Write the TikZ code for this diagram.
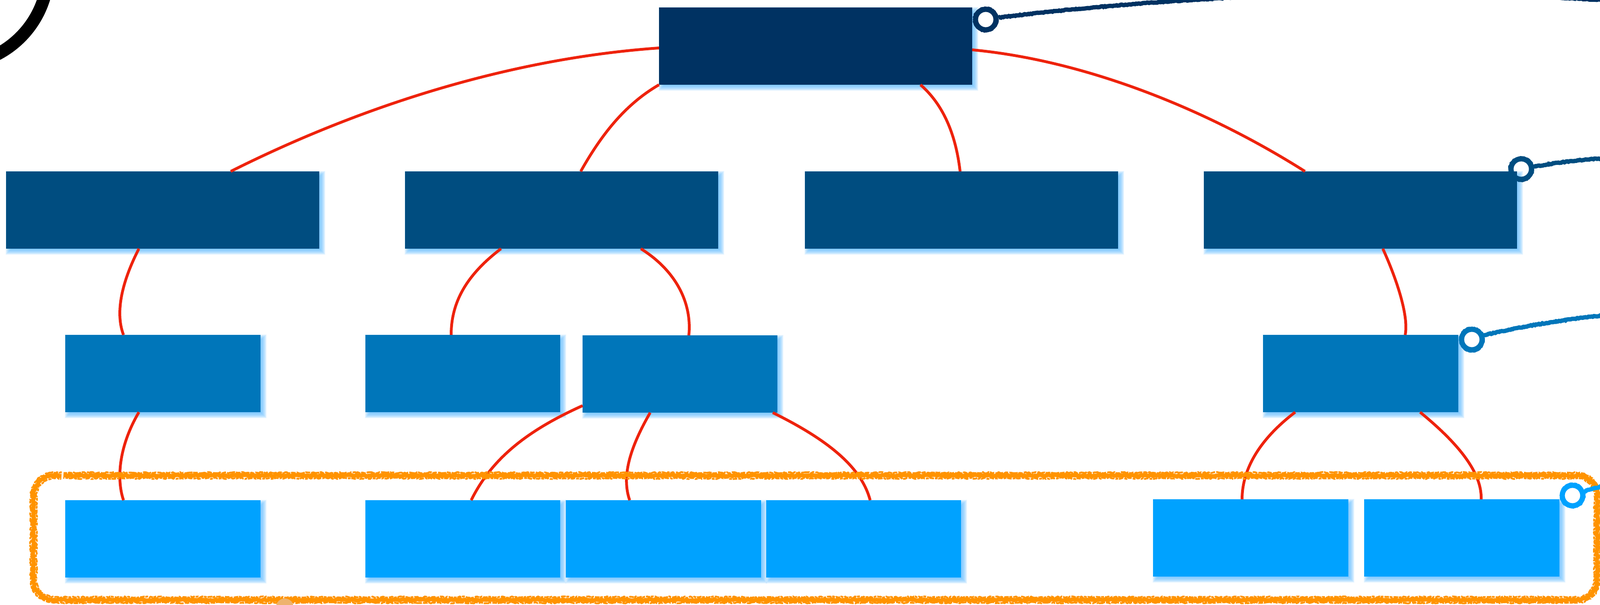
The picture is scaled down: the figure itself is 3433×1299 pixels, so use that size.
\documentclass[tikz,border=0pt]{standalone}
\usetikzlibrary{calc,decorations.pathmorphing}
\definecolor{rootblue}{HTML}{003262}
\definecolor{midblue}{HTML}{004D80}
\definecolor{secblue}{HTML}{0076BA}
\definecolor{leafblue}{HTML}{00A2FF}
\definecolor{shadowblue}{HTML}{66C0FF}
\definecolor{linkred}{HTML}{EE220C}
\definecolor{bandorange}{HTML}{FF9300}
\definecolor{blobtan}{HTML}{EEB36E}
\tikzset{
  x=0.5pt,y=-0.5pt,
  plate/.style={draw=none,inner sep=0pt,outer sep=0pt,rectangle},
  link/.style={draw=linkred,line width=3pt},
  rough/.style={decorate,decoration={random steps,segment length=1.8pt,amplitude=0.8pt}},
  roughfine/.style={decorate,decoration={random steps,segment length=1.4pt,amplitude=0.45pt}},
  pinring/.style={line width=5.5pt},
  pinline/.style={line width=4.6pt},
}
% \plate{name}{x0}{y0}{x1}{y1}{colour}
\newcommand{\plate}[6]{%
  \foreach \g in {7,6,5,4,3,2,1,0,-1,-2,-3,-4,-5}{%
    \fill[shadowblue,opacity=0.11]
      (#2+6-\g,#3+6-\g) rectangle (#4+6+\g,#5+6+\g);}
  \pgfmathsetmacro{\pw}{(#4-#2)*0.5}\pgfmathsetmacro{\ph}{(#5-#3)*0.5}
  \node[plate,fill=#6,minimum width=\pw pt,minimum height=\ph pt] (#1) at ({(#2+#4)/2},{(#3+#5)/2}) {};}
% \pin{name}{x}{y}{colour}
\newcommand{\pin}[4]{%
  \coordinate (#1) at (#2,#3);
  \draw[#4,pinring] (#1) circle (22);
  \draw[#4,line width=1.6pt,roughfine] ($(#1)+(19,0)$) arc (0:360:19);
  \draw[#4,line width=1.6pt,roughfine] ($(#1)+(26,0)$) arc (0:360:26);}
% \bandloop{left}{top}{right}{bottom}{radius}: rounded rectangle path
\newcommand{\bandloop}[5]{(#1,#2+#5) arc (180:270:#5) -- (#3-#5,#2) arc (270:360:#5) -- (#3,#4-#5) arc (0:90:#5) -- (#1+#5,#4) arc (90:180:#5) -- cycle}
\begin{document}
\begin{tikzpicture}
\useasboundingbox (0,0) rectangle (3433,1299);
\begin{scope}
\clip (0,0) rectangle (3433,1299);
\fill[white] (0,0) rectangle (3433,1299);
\draw[black,line width=13.5pt] (-100,-64) circle (203.5);

\plate{root}{1414}{16}{2086}{182}{rootblue}
\plate{aa}{13}{368}{685}{534}{midblue}
\plate{ab}{869}{368}{1541}{534}{midblue}
\plate{ac}{1727}{368}{2399}{534}{midblue}
\plate{ad}{2583}{368}{3255}{534}{midblue}
\plate{ba}{140}{719}{559}{885}{secblue}
\plate{bb}{784}{719}{1202}{885}{secblue}
\plate{bc}{1250}{720}{1668}{886}{secblue}
\plate{bd}{2710}{719}{3129}{885}{secblue}
\plate{ca}{140}{1074}{559}{1240}{leafblue}
\plate{cb}{784}{1074}{1202}{1240}{leafblue}
\plate{cc}{1214}{1074}{1633}{1240}{leafblue}
\plate{cd}{1644}{1074}{2062}{1240}{leafblue}
\plate{ce}{2474}{1072}{2893}{1238}{leafblue}
\plate{cf}{2927}{1072}{3346}{1238}{leafblue}

% connectors: offsets are in reference pixels from box corners
\draw[link] ($(root.north west)+(0,87)$) .. controls +(-314,22) and ($(aa.north west)+(767,-143)$) .. ($(aa.north west)+(482,0)$);
\draw[link] ($(root.south west)+(0,0)$) .. controls +(-74,43) and ($(ab.north west)+(421,-78)$) .. ($(ab.north west)+(377,0)$);
\draw[link] ($(root.south west)+(561,0)$) .. controls +(55,48) and ($(ac.north west)+(325,-68)$) .. ($(ac.north west)+(333,0)$);
\draw[link] ($(root.north east)+(0,91)$) .. controls +(244,23) and ($(ad.north west)+(7,-133)$) .. ($(ad.north west)+(217,0)$);
\draw[link] ($(aa.south west)+(285,0)$) .. controls +(-44,86) and ($(ba.north west)+(110,-39)$) .. ($(ba.north west)+(125,0)$);
\draw[link] ($(ab.south west)+(206,0)$) .. controls +(-75,57) and ($(bb.north west)+(184,-69)$) .. ($(bb.north west)+(184,0)$);
\draw[link] ($(ab.south west)+(506,0)$) .. controls +(75,47) and ($(bc.north west)+(235,-70)$) .. ($(bc.north west)+(228,0)$);
\draw[link] ($(ad.south west)+(384,0)$) .. controls +(30,66) and ($(bd.north west)+(313,-40)$) .. ($(bd.north west)+(305,0)$);
\draw[link] ($(ba.south west)+(158,0)$) .. controls +(-44,75) and ($(ca.north west)+(110,-44)$) .. ($(ca.north west)+(125,0)$);
\draw[link] ($(bc.north west)+(0,151)$) .. controls +(-120,54) and ($(cb.north west)+(271,-89)$) .. ($(cb.north west)+(227,0)$);
\draw[link] ($(bc.south west)+(145,0)$) .. controls +(-46,80) and ($(cc.north west)+(120,-49)$) .. ($(cc.north west)+(137,0)$);
\draw[link] ($(bc.south west)+(408,0)$) .. controls +(132,65) and ($(cd.north west)+(206,-64)$) .. ($(cd.north west)+(223,0)$);
\draw[link] ($(bd.south west)+(69,0)$) .. controls +(-79,60) and ($(ce.north west)+(191,-62)$) .. ($(ce.north west)+(191,0)$);
\draw[link] ($(bd.south west)+(337,0)$) .. controls +(73,60) and ($(cf.north west)+(253,-62)$) .. ($(cf.north west)+(251,0)$);

% hand-drawn band: solid core and broken rough edges
\draw[bandorange,line width=4.4pt,line join=round,rough] \bandloop{72}{1021}{3427}{1288}{44};
\draw[bandorange,line width=1.9pt,line join=round,rough,dash pattern=on 9pt off 0.8pt on 5pt off 1.2pt]
  \bandloop{66}{1015}{3433}{1294}{50};
\draw[bandorange,line width=1.9pt,line join=round,rough,dash pattern=on 5pt off 1.1pt on 3pt off 0.7pt]
  \bandloop{78}{1027}{3421}{1282}{38};
\fill[white] (133,1008) -- (137,1008) -- (135,1034) -- (131,1034) -- cycle;
\fill[blobtan] (611,1304) circle (19);

% pins and their lines
\pin{pa}{2115}{42}{rootblue}
\draw[rootblue,pinline,roughfine] ($(pa)+(27,-4)$) .. controls (2300,18) and (2480,3) .. (2680,-7);
\coordinate (paEnd) at (3440,0);
\draw[rootblue,pinline,roughfine] (3300,-7) .. controls (3350,-5) and (3400,-2) .. (paEnd);
\pin{pb}{3264}{363}{midblue}
\draw[midblue,pinline,roughfine] ($(pb)+(27,-5)$) .. controls (3340,349) and (3390,343) .. (3440,340);
\pin{pc}{3158}{729}{secblue}
\draw[secblue,pinline,roughfine] ($(pc)+(25,-9)$) .. controls (3250,704) and (3340,688) .. (3440,677);
\pin{pd}{3374}{1064}{leafblue}
\draw[leafblue,pinline,roughfine] ($(pd)+(25,-9)$) -- (3440,1043);
\end{scope}
\end{tikzpicture}
\end{document}
